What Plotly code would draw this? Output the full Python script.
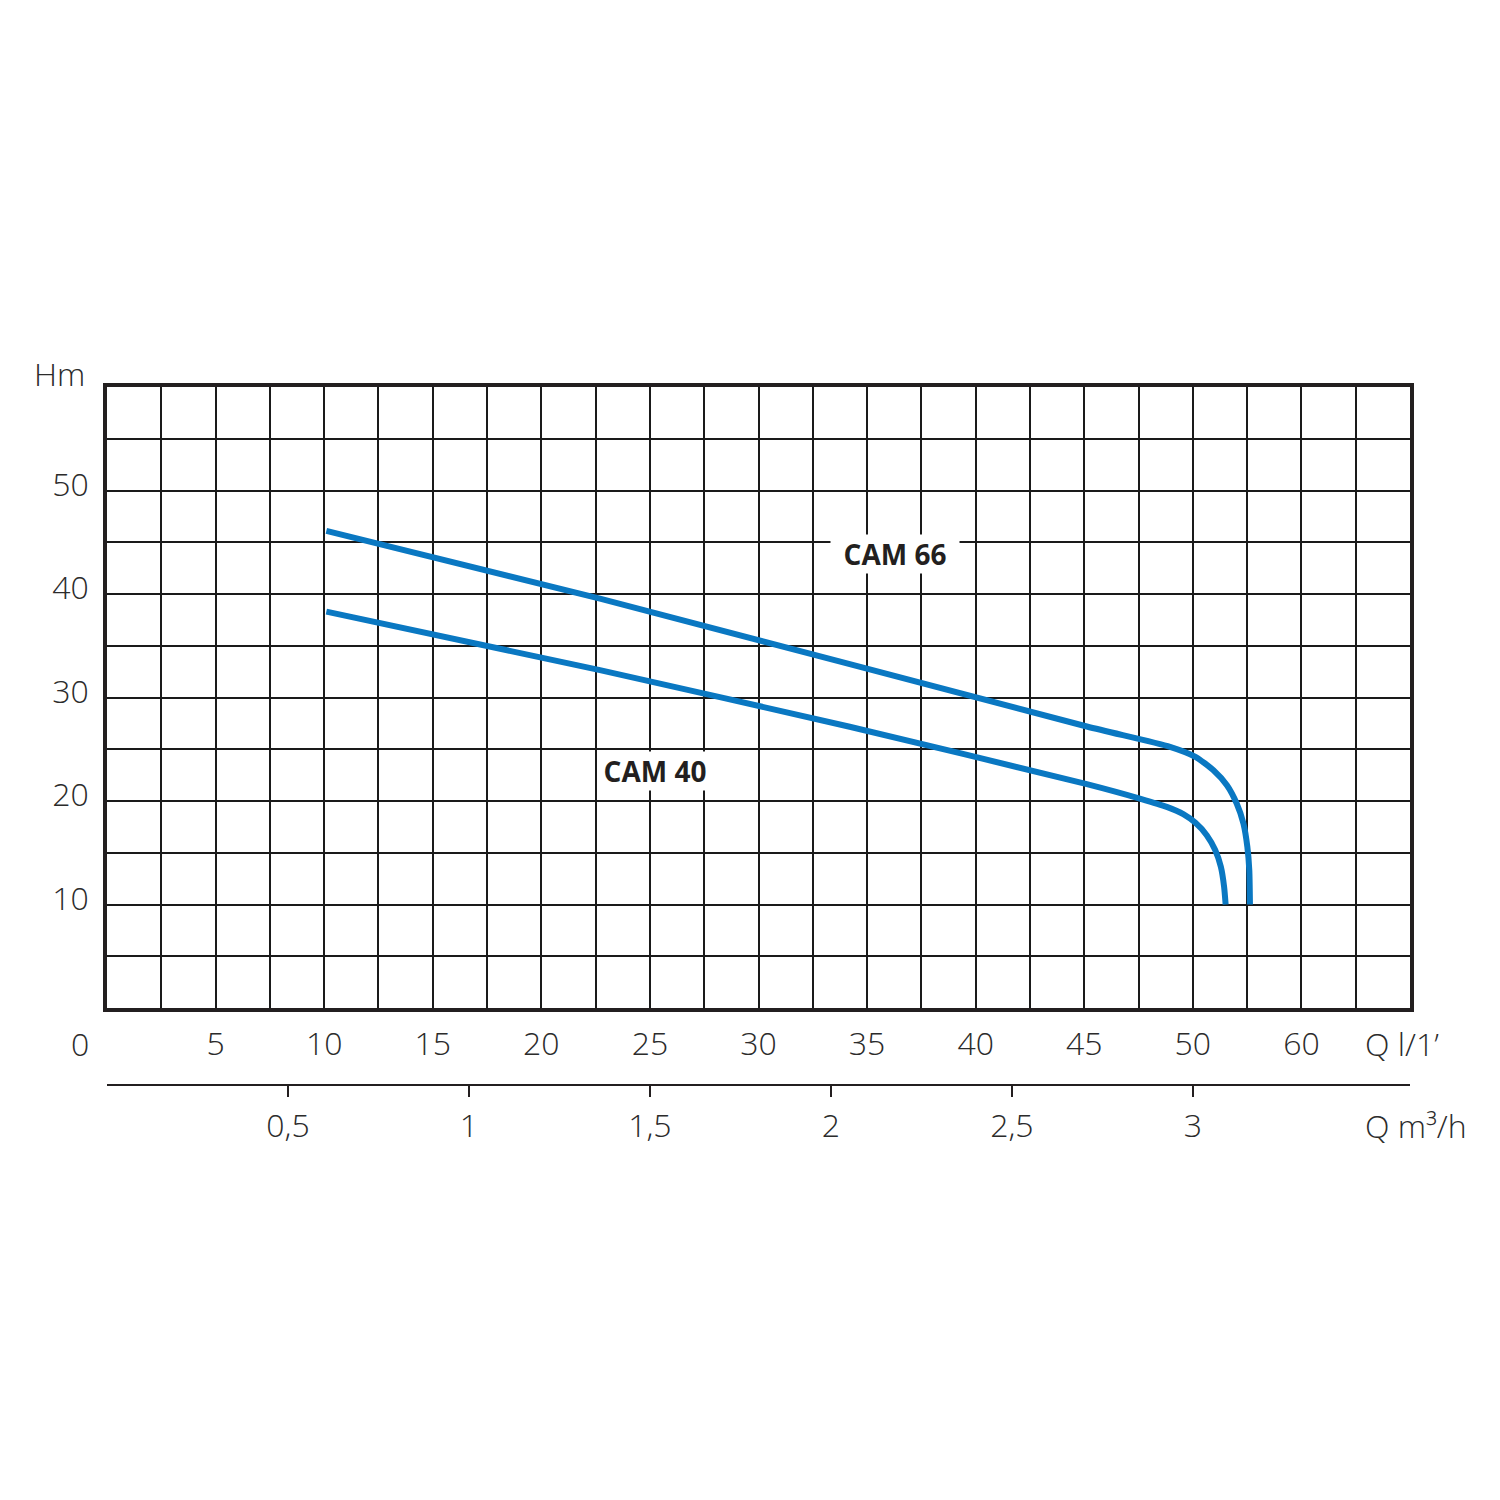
import plotly.graph_objects as go

# ---- data ----
cam66_q = [10.1, 22.7, 45.12, 48.95, 50.12, 50.95, 51.57, 52.02, 52.33, 52.51, 52.60, 52.63]
cam66_h = [46.1, 39.56, 27.2, 25.24, 24.27, 22.98, 21.53, 19.76, 17.83, 15.58, 13.32, 10.0]

cam40_q = [10.1, 22.7, 34.2, 45.12, 47.60, 48.80, 49.56, 50.12, 50.64, 51.03, 51.29, 51.44, 51.51]
cam40_h = [38.3, 32.64, 27.17, 21.63, 20.21, 19.43, 18.73, 17.89, 16.70, 15.26, 13.64, 11.71, 10.0]

x_tickvals = [5, 10, 15, 20, 25, 30, 35, 40, 45, 50, 55]
x_ticktext = ["5", "10", "15", "20", "25", "30", "35", "40", "45", "50", "60"]
y_tickvals = [10, 20, 30, 40, 50]
y_ticktext = ["10", "20", "30", "40", "50"]
m3h_tickvals = [0.5, 1, 1.5, 2, 2.5, 3]
m3h_ticktext = ["0,5", "1", "1,5", "2", "2,5", "3"]

BLUE = "#0a78c2"
INK = "#231f20"
TXT = "#2b2b2b"
FONT = "Open Sans"
TS = 32
OFF = 8  # page body margin

fig = go.Figure()
fig.add_trace(go.Scatter(x=cam66_q, y=cam66_h, mode="lines", name="CAM 66",
                         line=dict(color=BLUE, width=6, shape="spline", smoothing=0.6),
                         showlegend=False, hoverinfo="skip"))
fig.add_trace(go.Scatter(x=cam40_q, y=cam40_h, mode="lines", name="CAM 40",
                         line=dict(color=BLUE, width=6, shape="spline", smoothing=0.6),
                         showlegend=False, hoverinfo="skip"))
# invisible trace to activate the secondary axis
fig.add_trace(go.Scatter(x=[0.5, 3], y=[None, None], xaxis="x2", yaxis="y",
                         mode="lines", showlegend=False, hoverinfo="skip"))

left, right, top, bot_main, bot_sec = 107, 1410, 387, 1008, 1085
paper_w = right - left
paper_h = bot_sec - top
ydom0 = (bot_sec - bot_main) / paper_h

grid = dict(showgrid=True, gridcolor="#1a1a1a", gridwidth=1.6)
tf = dict(family=FONT, size=TS, color=TXT, weight=300)

fig.update_layout(
    width=1500, height=1500,
    margin=dict(l=left - OFF, r=1500 - (right - OFF), t=top - OFF, b=1500 - (bot_sec - OFF)),
    paper_bgcolor="white", plot_bgcolor="white",
    font=dict(family=FONT, size=TS, color=TXT),
    xaxis=dict(range=[0, 60], tickmode="array", tickvals=x_tickvals, ticktext=x_ticktext,
               ticks="", zeroline=False, showline=True, mirror=True, linewidth=3.5,
               linecolor=INK, anchor="y", ticklabelstandoff=5, tickfont=tf,
               minor=dict(tickmode="linear", tick0=0, dtick=2.5, **grid), **grid),
    yaxis=dict(range=[0, 60], domain=[ydom0, 1], tickmode="array", tickvals=y_tickvals,
               ticktext=y_ticktext, ticks="", zeroline=False, showline=True, mirror=True,
               linewidth=3.5, linecolor=INK, ticklabelstandoff=8, ticklabelshift=-6,
               tickfont=tf, minor=dict(tickmode="linear", tick0=0, dtick=5, **grid), **grid),
    xaxis2=dict(range=[0, 3.6], overlaying="x", anchor="free", position=0, side="bottom",
                tickmode="array", tickvals=m3h_tickvals, ticktext=m3h_ticktext,
                ticks="outside", ticklen=11, tickwidth=1.5, tickcolor=INK,
                showline=True, linewidth=1.8, linecolor=INK, showgrid=False, zeroline=False,
                ticklabelstandoff=2, tickfont=tf),
)


def px2paper(px, py):
    return (px - left) / paper_w, (bot_sec - py) / paper_h


ann = []
for text, (px, py), anchor in [("Hm", (60, 373), "center"), ("0", (80, 1043), "center"),
                               ("Q l/1\u2019", (1363, 1043), "left"),
                               ("Q m\u00b3/h", (1363, 1125), "left")]:
    x, y = px2paper(px, py)
    ann.append(dict(x=x, y=y, xref="paper", yref="paper", text=text, showarrow=False,
                    xanchor=anchor, yanchor="middle", font=tf))

ann.append(dict(x=36.28, y=43.84, xref="x", yref="y", text="<b>CAM 66</b>", showarrow=False,
                xanchor="center", yanchor="middle", bgcolor="white", width=128, borderpad=0,
                font=dict(family=FONT, size=28, color=INK)))
ann.append(dict(x=25.23, y=22.89, xref="x", yref="y", text="<b>CAM 40</b>", showarrow=False,
                xanchor="center", yanchor="middle", bgcolor="white", width=112, borderpad=0,
                font=dict(family=FONT, size=28, color=INK)))
fig.update_layout(annotations=ann)

fig.write_html("out.html")
